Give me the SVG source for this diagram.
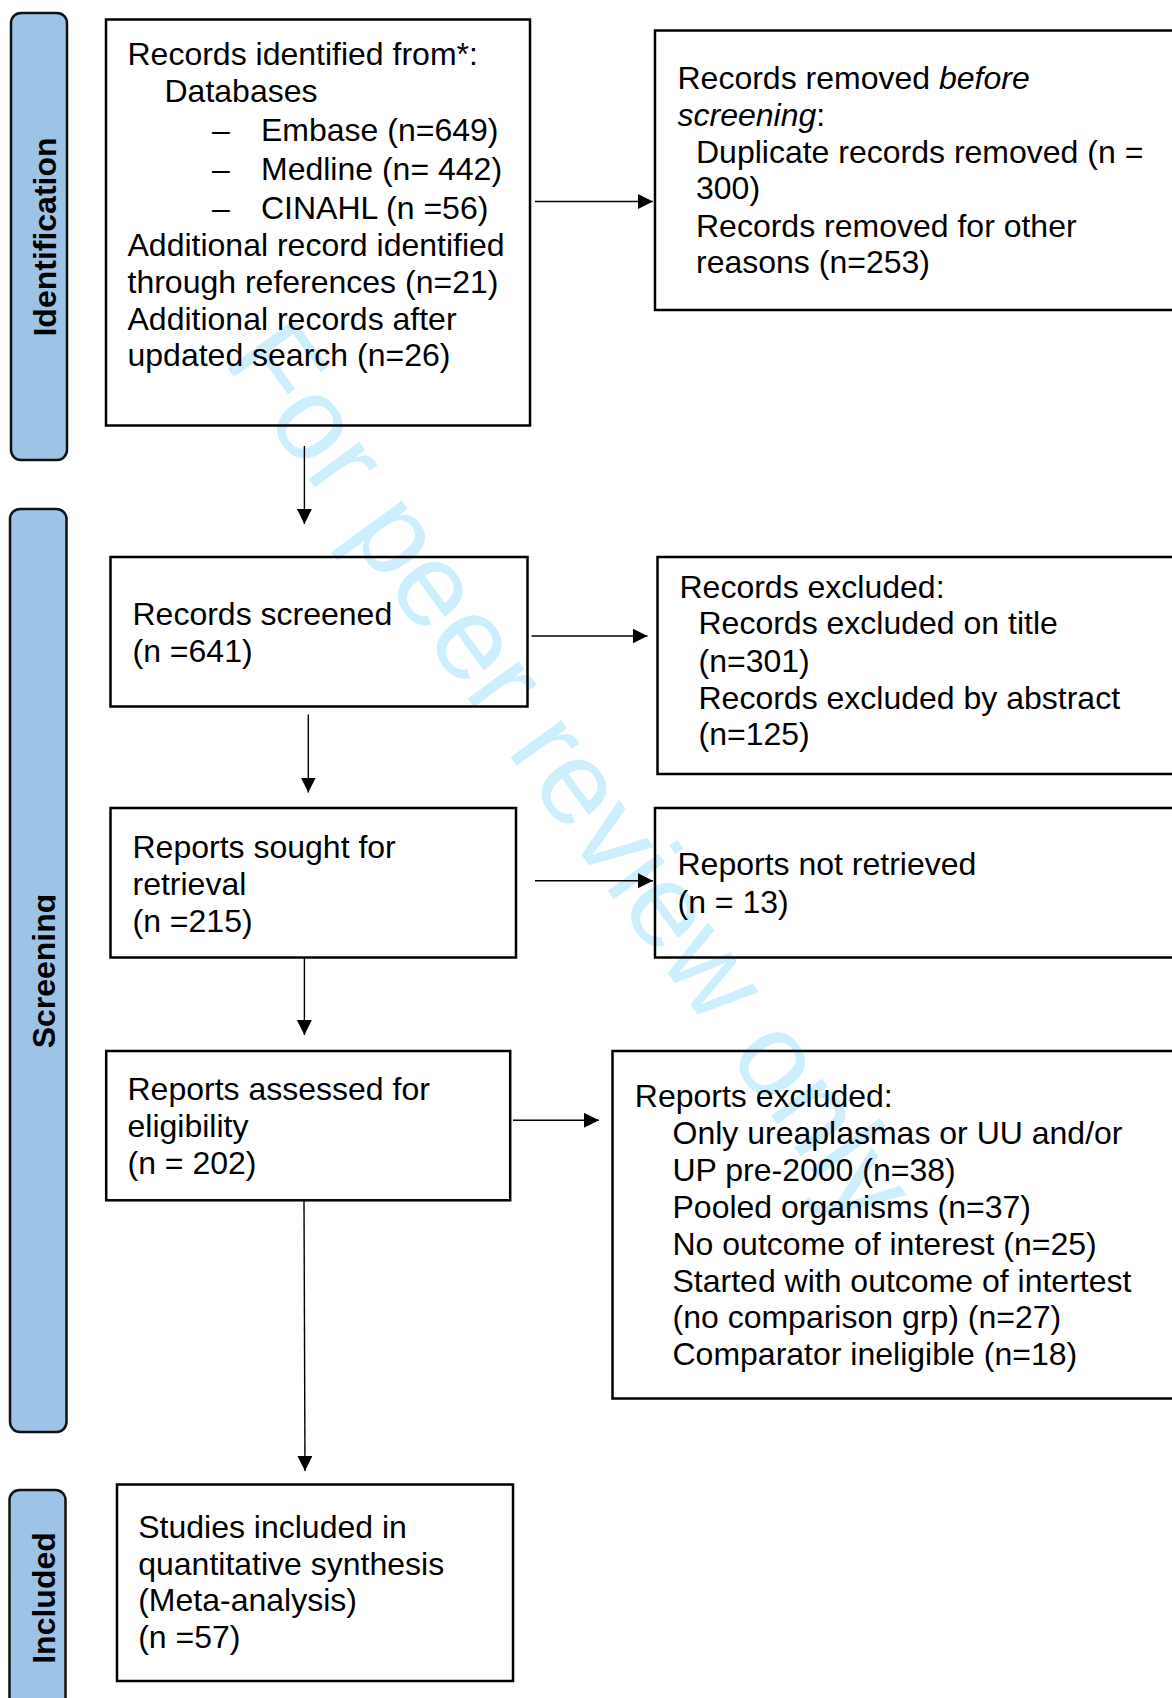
<svg xmlns="http://www.w3.org/2000/svg" width="1172" height="1698" viewBox="0 0 1172 1698">
<style>
  .box { fill: none; stroke: #000; stroke-width: 2.5; }
  .side { fill: #9dc3e6; stroke: #111; stroke-width: 2.5; }
  .t { font-family: "Liberation Sans", Arial, sans-serif; font-size: 32px; fill: #000; }
  .lab { font-family: "Liberation Sans", Arial, sans-serif; font-size: 32px; font-weight: bold; fill: #000; text-anchor: middle; }
  .wm { font-family: "Liberation Sans", Arial, sans-serif; font-size: 119px; fill: #cdeefc; }
  .conn { stroke: #000; stroke-width: 1.4; fill: none; marker-end: url(#arr); }
</style>
<defs>
  <marker id="arr" markerUnits="userSpaceOnUse" markerWidth="16" markerHeight="15" refX="15" refY="7.5" orient="auto">
    <path d="M0,0 L15,7.5 L0,15 z" fill="#000"/>
  </marker>
  <clipPath id="clipScr" clipPathUnits="userSpaceOnUse">
    <rect x="0" y="0" width="55.5" height="1698"/>
  </clipPath>
</defs>
<rect x="0" y="0" width="1172" height="1698" fill="#fff"/>

<g id="watermark">
  <text class="wm" transform="translate(222,360) rotate(54)">For peer review only</text>
</g>

<g id="stage-identification">
  <rect class="side" x="11" y="13" width="56" height="447" rx="10"/>
  <text class="lab" transform="translate(56,237) rotate(-90)">Identification</text>
</g>
<g id="stage-screening">
  <rect class="side" x="10" y="509" width="56.5" height="923" rx="10"/>
  <g clip-path="url(#clipScr)">
    <text class="lab" transform="translate(55,971) rotate(-90)">Screening</text>
  </g>
</g>
<g id="stage-included">
  <rect class="side" x="9.5" y="1490" width="56" height="240" rx="10"/>
  <text class="lab" transform="translate(55,1598) rotate(-90)">Included</text>
</g>

<g id="records-identified">
  <rect class="box" x="106" y="19.5" width="424" height="406"/>
  <text class="t" x="127.5" y="65">Records identified from*:</text>
  <text class="t" x="164.5" y="102">Databases</text>
  <text class="t" x="212" y="141">–</text>
  <text class="t" x="261" y="141">Embase (n=649)</text>
  <text class="t" x="212" y="180">–</text>
  <text class="t" x="261" y="180">Medline (n= 442)</text>
  <text class="t" x="212" y="219">–</text>
  <text class="t" x="261" y="219">CINAHL (n =56)</text>
  <text class="t" x="127.5" y="256">Additional record identified</text>
  <text class="t" x="127.5" y="293">through references (n=21)</text>
  <text class="t" x="127.5" y="329.5">Additional records after</text>
  <text class="t" x="127.5" y="366">updated search (n=26)</text>
</g>

<g id="records-removed">
  <rect class="box" x="655" y="30.5" width="540" height="279.5"/>
  <text class="t" x="677.5" y="89">Records removed <tspan font-style="italic">before</tspan></text>
  <text class="t" x="677.5" y="126"><tspan font-style="italic">screening</tspan>:</text>
  <text class="t" x="696" y="163">Duplicate records removed (n =</text>
  <text class="t" x="696" y="199">300)</text>
  <text class="t" x="696" y="236.5">Records removed for other</text>
  <text class="t" x="696" y="273">reasons (n=253)</text>
</g>

<g id="records-screened">
  <rect class="box" x="110.5" y="557" width="417" height="149.5"/>
  <text class="t" x="132.5" y="625">Records screened</text>
  <text class="t" x="132.5" y="661.5">(n =641)</text>
</g>

<g id="records-excluded">
  <rect class="box" x="657.5" y="557" width="540" height="217"/>
  <text class="t" x="679.5" y="597.5">Records excluded:</text>
  <text class="t" x="698.5" y="634">Records excluded on title</text>
  <text class="t" x="698.5" y="671.5">(n=301)</text>
  <text class="t" x="698.5" y="708.5">Records excluded by abstract</text>
  <text class="t" x="698.5" y="745">(n=125)</text>
</g>

<g id="reports-sought">
  <rect class="box" x="110.5" y="808" width="405.5" height="149.5"/>
  <text class="t" x="132.5" y="857.5">Reports sought for</text>
  <text class="t" x="132.5" y="894.5">retrieval</text>
  <text class="t" x="132.5" y="931.5">(n =215)</text>
</g>

<g id="reports-not-retrieved">
  <rect class="box" x="655" y="808" width="540" height="149.5"/>
  <text class="t" x="677.5" y="875">Reports not retrieved</text>
  <text class="t" x="677.5" y="912.5">(n = 13)</text>
</g>

<g id="reports-assessed">
  <rect class="box" x="106.2" y="1051" width="404" height="149.3"/>
  <text class="t" x="127.5" y="1100">Reports assessed for</text>
  <text class="t" x="127.5" y="1137">eligibility</text>
  <text class="t" x="127.5" y="1173.5">(n = 202)</text>
</g>

<g id="reports-excluded">
  <rect class="box" x="612.5" y="1051" width="580" height="347.5"/>
  <text class="t" x="634.8" y="1107">Reports excluded:</text>
  <text class="t" x="672.5" y="1144">Only ureaplasmas or UU and/or</text>
  <text class="t" x="672.5" y="1180.5">UP pre-2000 (n=38)</text>
  <text class="t" x="672.5" y="1217.5">Pooled organisms (n=37)</text>
  <text class="t" x="672.5" y="1254.5">No outcome of interest (n=25)</text>
  <text class="t" x="672.5" y="1291.5">Started with outcome of intertest</text>
  <text class="t" x="672.5" y="1328">(no comparison grp) (n=27)</text>
  <text class="t" x="672.5" y="1365">Comparator ineligible (n=18)</text>
</g>

<g id="studies-included">
  <rect class="box" x="117" y="1484.5" width="396" height="196.5"/>
  <text class="t" x="138.2" y="1537.5">Studies included in</text>
  <text class="t" x="138.2" y="1574.5">quantitative synthesis</text>
  <text class="t" x="138.2" y="1611">(Meta-analysis)</text>
  <text class="t" x="138.2" y="1647.5">(n =57)</text>
</g>

<g id="connectors">
  <line class="conn" x1="535" y1="201.5" x2="653" y2="201.5"/>
  <line class="conn" x1="304.4" y1="446" x2="304.4" y2="524"/>
  <line class="conn" x1="531.5" y1="636" x2="647.5" y2="636"/>
  <line class="conn" x1="308.3" y1="714.5" x2="308.3" y2="792.5"/>
  <line class="conn" x1="535" y1="880.7" x2="653" y2="880.7"/>
  <line class="conn" x1="304.4" y1="957.5" x2="304.4" y2="1035"/>
  <line class="conn" x1="513" y1="1120.3" x2="599" y2="1120.3"/>
  <line class="conn" x1="304" y1="1200.3" x2="305" y2="1471"/>
</g>
</svg>
